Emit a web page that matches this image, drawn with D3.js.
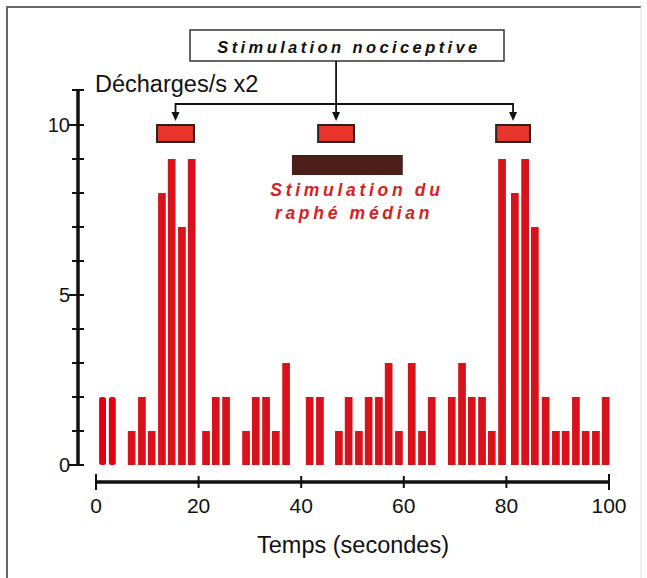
<!DOCTYPE html>
<meta charset="utf-8">
<style>
body { margin: 0; background: #fff; }
text { font-family: "Liberation Sans", Arial, sans-serif; }
</style>
<body>
<script src="https://cdnjs.cloudflare.com/ajax/libs/d3/7.8.5/d3.min.js"></script>
<script>

var width = 647
var height = 578

// bin start (s) and discharges/s x2
var binStart = [6.2, 8.2, 10.1, 12.1, 14.0, 16.0, 17.9,
  20.7, 22.6, 24.6,
  28.5, 30.4, 32.4, 34.3, 36.3,
  40.9, 42.9,
  46.6, 48.5, 50.5, 52.4, 54.4, 56.3, 58.3, 60.8, 62.8, 64.7,
  68.6, 70.6, 72.5, 74.5, 76.4, 78.4, 80.9, 82.9, 84.8, 86.9, 88.9, 90.8, 92.8, 94.7, 96.7, 98.6]
var binValue = [1, 2, 1, 8, 9, 7, 9,
  1, 2, 2,
  1, 2, 2, 1, 3,
  2, 2,
  1, 2, 1, 2, 2, 3, 1, 3, 1, 2,
  2, 3, 2, 2, 1, 9, 8, 9, 7, 2, 1, 1, 2, 1, 1, 2]

// the two calibration strokes near t=0
var calStart = [0.6, 2.5]
var calValue = [2, 2]

// nociceptive stimulations (s)
var nociStart = [11.9, 43.3, 78.0]
var nociEnd = [19.1, 50.3, 84.6]

// raphe stimulation (s)
var rapheStart = 38.2
var rapheEnd = 59.8

var xTicks = [0, 20, 40, 60, 80, 100]
var yMajor = [0, 5, 10]

var svg = d3.select("body").append("svg")
    .attr("width", width)
    .attr("height", height)

var x = d3.scaleLinear().domain([0, 100]).range([96, 609])
var y = d3.scaleLinear().domain([0, 10]).range([465, 125])

// frame
svg.append("path")
    .attr("d", "M7,578 L7,7 L641,7")
    .attr("fill", "none")
    .attr("stroke", "#666")
    .attr("stroke-width", 2)
svg.append("line")
    .attr("x1", 641).attr("x2", 641).attr("y1", 7).attr("y2", 578)
    .attr("stroke", "#ddd")
    .attr("stroke-width", 1)

// y axis
var ya = svg.append("g").attr("stroke", "#111")
ya.append("line")
    .attr("x1", 78).attr("x2", 78)
    .attr("y1", y(0) + 1).attr("y2", 90)
    .attr("stroke-width", 3.5)
ya.append("line")
    .attr("x1", 72).attr("x2", 84)
    .attr("y1", 90).attr("y2", 90)
    .attr("stroke-width", 2)
ya.selectAll(".ytick")
    .data(y.ticks(10))
  .enter().append("line")
    .attr("class", "ytick")
    .attr("x1", function(d) { return yMajor.indexOf(d) >= 0 ? 69 : 72 })
    .attr("x2", 84)
    .attr("y1", function(d) { return y(d) })
    .attr("y2", function(d) { return y(d) })
    .attr("stroke-width", 2)
svg.selectAll(".ylab")
    .data(yMajor)
  .enter().append("text")
    .attr("class", "ylab")
    .attr("x", 70)
    .attr("y", function(d) { return y(d) + 7 })
    .attr("text-anchor", "end")
    .attr("font-size", 20)
    .attr("fill", "#111")
    .text(function(d) { return d })

svg.append("text")
    .attr("x", 95)
    .attr("y", 92)
    .attr("font-size", 23.5)
    .attr("fill", "#111")
    .text("Décharges/s x2")

// x axis
var xa = svg.append("g").attr("stroke", "#111")
xa.append("line")
    .attr("x1", x(0)).attr("x2", x(100))
    .attr("y1", 482).attr("y2", 482)
    .attr("stroke-width", 3.5)
xa.selectAll(".xtick")
    .data(xTicks)
  .enter().append("line")
    .attr("class", "xtick")
    .attr("x1", function(d) { return x(d) })
    .attr("x2", function(d) { return x(d) })
    .attr("y1", function(d) { return d == 0 || d == 100 ? 474 : 476 })
    .attr("y2", function(d) { return d == 0 || d == 100 ? 490 : 488 })
    .attr("stroke-width", 2)
svg.selectAll(".xlab")
    .data(xTicks)
  .enter().append("text")
    .attr("class", "xlab")
    .attr("x", function(d) { return x(d) })
    .attr("y", 513)
    .attr("text-anchor", "middle")
    .attr("font-size", 21)
    .attr("fill", "#111")
    .text(function(d) { return d })

svg.append("text")
    .attr("x", 353)
    .attr("y", 553)
    .attr("text-anchor", "middle")
    .attr("font-size", 23.5)
    .attr("fill", "#111")
    .text("Temps (secondes)")

// histogram
var binW = 1.5
svg.selectAll(".bar")
    .data(binStart)
  .enter().append("rect")
    .attr("class", "bar")
    .attr("x", function(d) { return x(d) })
    .attr("width", x(binW) - x(0))
    .attr("y", function(d, i) { return y(binValue[i]) })
    .attr("height", function(d, i) { return y(0) - y(binValue[i]) })
    .attr("fill", "#d7121b")

svg.selectAll(".cal")
    .data(calStart)
  .enter().append("rect")
    .attr("class", "cal")
    .attr("x", function(d) { return x(d) })
    .attr("width", x(1.35) - x(0))
    .attr("y", function(d, i) { return y(calValue[i]) })
    .attr("height", function(d, i) { return y(0) - y(calValue[i]) })
    .attr("rx", 2.5)
    .attr("fill", "#e00010")

// stimulation boxes
svg.selectAll(".noci")
    .data(nociStart)
  .enter().append("rect")
    .attr("class", "noci")
    .attr("x", function(d) { return x(d) })
    .attr("width", function(d, i) { return x(nociEnd[i]) - x(d) })
    .attr("y", 125)
    .attr("height", 17)
    .attr("fill", "#e8352b")
    .attr("stroke", "#2a2020")
    .attr("stroke-width", 2)

svg.append("rect")
    .attr("x", x(rapheStart))
    .attr("width", x(rapheEnd) - x(rapheStart))
    .attr("y", 155)
    .attr("height", 20)
    .attr("fill", "#4b1f19")

var rapheText = svg.append("text")
    .attr("text-anchor", "middle")
    .attr("font-size", 17.5)
    .attr("font-weight", "bold")
    .attr("font-style", "italic")
    .attr("letter-spacing", 3.7)
    .attr("fill", "#d42222")
rapheText.append("tspan").attr("x", 357).attr("y", 196).text("Stimulation du")
rapheText.append("tspan").attr("x", 354).attr("y", 219).text("raphé médian")

// "Stimulation nociceptive" box and arrows
svg.append("rect")
    .attr("x", 190).attr("y", 30)
    .attr("width", 314).attr("height", 31)
    .attr("fill", "#fff")
    .attr("stroke", "#333")
    .attr("stroke-width", 1.5)
svg.append("text")
    .attr("x", 349)
    .attr("y", 53)
    .attr("text-anchor", "middle")
    .attr("font-size", 16.5)
    .attr("font-weight", "bold")
    .attr("font-style", "italic")
    .attr("letter-spacing", 3.4)
    .attr("fill", "#111")
    .text("Stimulation nociceptive")

var arrowX = nociStart.map(function(d, i) { return x((d + nociEnd[i]) / 2) })
var ag = svg.append("g").attr("stroke", "#111").attr("stroke-width", 1.8).attr("fill", "none")
ag.append("line")
    .attr("x1", arrowX[1]).attr("x2", arrowX[1])
    .attr("y1", 61).attr("y2", 117)
ag.append("path")
    .attr("d", "M" + arrowX[0] + ",116 L" + arrowX[0] + ",104 L" + arrowX[2] + ",104 L" + arrowX[2] + ",116")
svg.selectAll(".head")
    .data(arrowX)
  .enter().append("path")
    .attr("class", "head")
    .attr("d", function(d) { return "M" + (d - 4) + ",112 L" + (d + 4) + ",112 L" + d + ",121 Z" })
    .attr("fill", "#111")

</script>
